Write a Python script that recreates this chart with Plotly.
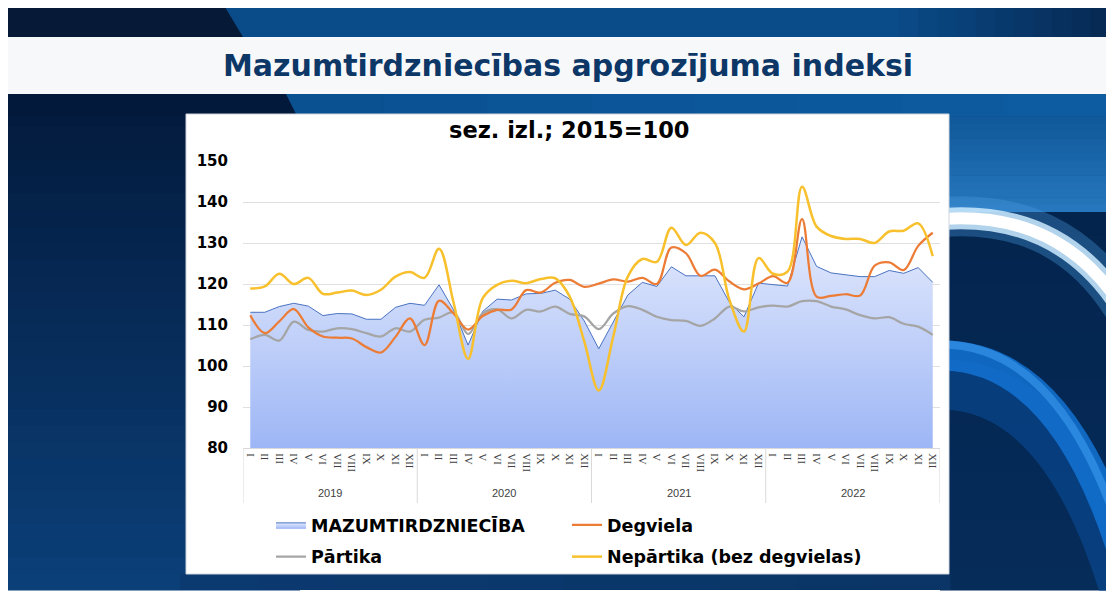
import plotly.graph_objects as go

# ---------------- data ----------------
years = ["2019", "2020", "2021", "2022"]
months = ["I", "II", "III", "IV", "V", "VI", "VII", "VIII", "IX", "X", "XI", "XII"]

mazumtirdznieciba = [
    113.1, 113.1, 114.5, 115.3, 114.6, 112.3, 112.8, 112.7, 111.4, 111.4, 114.3, 115.3,
    114.8, 119.8, 113.7, 105.1, 113.3, 116.3, 116.1, 117.6, 117.7, 118.5, 116.3, 111.0,
    104.2, 110.8, 117.3, 120.4, 119.4, 124.2, 122.0, 122.0, 122.0, 115.5, 112.0, 120.2,
    119.8, 119.5, 131.5, 124.3, 122.7, 122.3, 121.8, 121.8, 123.3, 122.6, 124.0, 120.4,
]
degviela = [
    112.4, 108.0, 110.9, 113.9, 109.4, 107.2, 106.9, 106.7, 104.6, 103.3, 107.1, 111.6,
    105.1, 115.9, 112.8, 108.9, 112.2, 113.7, 113.8, 118.5, 117.9, 120.3, 121.0, 119.3,
    120.1, 121.1, 120.6, 121.5, 120.0, 128.9, 127.5, 122.0, 123.5, 120.6, 118.7, 120.1,
    121.9, 120.3, 135.8, 116.9, 117.1, 117.5, 117.2, 124.5, 125.3, 123.4, 129.3, 132.5,
]
partika = [
    106.5, 107.6, 106.2, 110.8, 108.8, 108.4, 109.2, 109.0, 108.0, 107.2, 109.2, 108.4,
    111.3, 111.8, 113.1, 107.8, 112.8, 113.8, 111.6, 113.7, 113.3, 114.5, 112.7, 112.1,
    109.0, 112.8, 114.6, 113.7, 112.0, 111.2, 111.0, 109.8, 111.6, 114.5, 113.3, 114.3,
    114.7, 114.5, 115.8, 115.8, 114.5, 113.8, 112.4, 111.6, 111.9, 110.3, 109.6, 107.6,
]
nepartika = [
    118.9, 119.4, 122.5, 120.0, 121.5, 117.6, 117.9, 118.4, 117.3, 118.6, 121.8, 122.9,
    121.5, 128.6, 115.5, 101.7, 116.5, 119.8, 120.8, 120.2, 121.2, 121.4, 116.9, 106.0,
    94.0, 107.2, 121.8, 126.1, 125.4, 133.7, 129.5, 132.5, 130.0, 116.1, 108.4, 126.3,
    122.5, 123.0, 143.7, 134.0, 131.7, 131.0, 131.0, 130.0, 132.8, 133.0, 134.8, 126.8,
]

# ---------------- geometry helpers (screen pixels -> paper) ----------------
PAGE_OFF = 8                       # default body margin of the html page
W, H = 1114 - PAGE_OFF, 591 - PAGE_OFF
PL, PR, PT, PB = 243, 940, 161, 448  # plot area in screen pixels


def px(x):
    return (x - PL) / (PR - PL)


def py(y):
    return (PB - y) / (PB - PT)


shapes = []


def rect(x0, y0, x1, y1, color, line=None, lw=0):
    shapes.append(dict(type="rect", xref="paper", yref="paper",
                       x0=px(x0), x1=px(x1), y0=py(y1), y1=py(y0),
                       fillcolor=color, line=dict(color=line or color, width=lw),
                       layer="below"))


def poly(pts, color):
    d = "M " + " L ".join(f"{px(a):.5f},{py(b):.5f}" for a, b in pts) + " Z"
    shapes.append(dict(type="path", xref="paper", yref="paper", path=d,
                       fillcolor=color, line=dict(width=0), layer="below"))


def curve(p0, c, p1, color, width, opacity=1.0):
    d = (f"M {px(p0[0]):.5f},{py(p0[1]):.5f} Q {px(c[0]):.5f},{py(c[1]):.5f} "
         f"{px(p1[0]):.5f},{py(p1[1]):.5f}")
    shapes.append(dict(type="path", xref="paper", yref="paper", path=d,
                       line=dict(color=color, width=width), opacity=opacity,
                       layer="below"))


def hexmix(c0, c1, t):
    a = [int(c0[i:i + 2], 16) for i in (1, 3, 5)]
    b = [int(c1[i:i + 2], 16) for i in (1, 3, 5)]
    return "#" + "".join(f"{round(a[i] + (b[i] - a[i]) * t):02x}" for i in range(3))


def vgrad(x0, y0, x1, y1, c0, c1, n=24):
    h = (y1 - y0) / n
    for i in range(n):
        rect(x0, y0 + i * h, x1, y0 + (i + 1) * h + 0.6, hexmix(c0, c1, i / (n - 1)))


def hgrad(x0, y0, x1, y1, c0, c1, n=24):
    w = (x1 - x0) / n
    for i in range(n):
        rect(x0 + i * w, y0, x0 + (i + 1) * w + 0.6, y1, hexmix(c0, c1, i / (n - 1)))


# ---------------- slide background ----------------
rect(7, 7, 1110, 590, "#062a57")
# left dark panel
vgrad(7, 94, 300, 590, "#031a3c", "#0b3f78", 30)
# right panel
vgrad(940, 94, 1110, 212, "#0b5192", "#2677bd", 16)
vgrad(940, 212, 1110, 590, "#03244d", "#062c5a", 16)
# bottom strip under the chart
hgrad(180, 574, 950, 590, "#0b3a70", "#0a3566", 10)
# top band
rect(7, 7, 1110, 37, "#0a4c8a")
hgrad(880, 7, 1110, 37, "#0a4c8a", "#072a55", 12)
poly([(7, 7), (225, 7), (243, 37), (7, 37)], "#061a37")
# strip below the title band
hgrad(280, 94, 1110, 116, "#0a5192", "#0d5ba0", 8)
poly([(7, 94), (286, 94), (297, 116), (7, 116)], "#03193b")
# title band
rect(7, 37, 1110, 94, "#f7f8fa")

# light arcs on the right
curve((930, 385), (1060, 375), (1125, 590), "#0a4f9c", 50, 0.55)
curve((930, 356), (1060, 346), (1125, 560), "#1273d4", 30, 0.85)
curve((930, 345), (1060, 335), (1125, 548), "#3c9cf0", 8, 0.6)
curve((930, 218), (1060, 203), (1125, 310), "#4a9be0", 40, 0.35)
curve((930, 220), (1060, 205), (1125, 312), "#cdebff", 22, 0.85)
curve((930, 220), (1060, 205), (1125, 312), "#ffffff", 12, 1.0)

# white chart box
rect(186, 114, 949, 574, "#ffffff", line="#cfd4dc", lw=1)

# year dividers under the category axis
for i in range(len(years) + 1):
    xv = i * len(months) - 0.5
    shapes.append(dict(type="line", xref="x", yref="paper", x0=xv, x1=xv,
                       y0=0, y1=py(503), line=dict(color="#d9d9d9", width=1)))

# ---------------- traces ----------------
n = len(years) * len(months)
x_idx = list(range(n))
ticktext = months * len(years)

fig = go.Figure()
fig.add_trace(go.Scatter(
    x=x_idx, y=mazumtirdznieciba, name="MAZUMTIRDZNIECĪBA", mode="lines",
    line=dict(color="#4a73c2", width=1), fill="tozeroy",
    fillcolor="#bccdf8",
    fillgradient=dict(type="vertical", start=80, stop=135,
                      colorscale=[[0, "#9db6f5"], [1, "#e6ecfd"]]),
    legend="legend", legendgroup="a"))
fig.add_trace(go.Scatter(
    x=x_idx, y=partika, name="Pārtika", mode="lines",
    line=dict(color="#a5a5a5", width=2.25, shape="spline", smoothing=1.0),
    legend="legend", legendgroup="b"))
fig.add_trace(go.Scatter(
    x=x_idx, y=degviela, name="Degviela", mode="lines",
    line=dict(color="#ec7c35", width=2.25, shape="spline", smoothing=1.0),
    legend="legend2", legendgroup="c"))
fig.add_trace(go.Scatter(
    x=x_idx, y=nepartika, name="Nepārtika (bez degvielas)", mode="lines",
    line=dict(color="#f7c02c", width=2.5, shape="spline", smoothing=1.0),
    legend="legend2", legendgroup="d"))

annotations = [
    dict(text="Mazumtirdzniecības apgrozījuma indeksi", xref="paper", yref="paper",
         x=px(568), y=py(65), showarrow=False, xanchor="center", yanchor="middle",
         font=dict(family="DejaVu Sans", size=30, color="#0c3767", weight="bold")),
    dict(text="sez. izl.; 2015=100", xref="paper", yref="paper",
         x=px(569), y=py(130), showarrow=False, xanchor="center", yanchor="middle",
         font=dict(family="DejaVu Sans", size=22.5, color="#000000", weight="bold")),
]
for i, yr in enumerate(years):
    annotations.append(dict(text=yr, xref="x", yref="paper",
                            x=i * len(months) + (len(months) - 1) / 2, y=py(493),
                            showarrow=False, xanchor="center", yanchor="middle",
                            font=dict(family="Liberation Sans", size=11, color="#404040")))

legend_font = dict(family="DejaVu Sans", size=17.5, color="#000000", weight="bold")

fig.update_layout(
    width=W, height=H,
    margin=dict(l=PL - PAGE_OFF, r=W - (PR - PAGE_OFF), t=PT - PAGE_OFF,
                b=H - (PB - PAGE_OFF), pad=0),
    paper_bgcolor="#ffffff", plot_bgcolor="rgba(0,0,0,0)",
    showlegend=True,
    shapes=shapes, annotations=annotations,
    xaxis=dict(range=[-0.5, n - 0.5], tickmode="array", tickvals=x_idx, ticktext=ticktext,
               tickangle=90, showgrid=False, zeroline=False, showline=True,
               linecolor="#d9d9d9", linewidth=1, ticks="", ticklabelstandoff=2,
               tickfont=dict(family="Liberation Serif", size=11, color="#404040")),
    yaxis=dict(range=[80, 150], dtick=10, showgrid=True, gridcolor="#e0e0e0", gridwidth=1,
               zeroline=False, showline=False, ticks="", ticklabelstandoff=14,
               tickfont=dict(family="DejaVu Sans", size=15, color="#000000", weight="bold")),
    legend=dict(x=px(271), y=py(507), xanchor="left", yanchor="top", orientation="v",
                bgcolor="rgba(0,0,0,0)", font=legend_font, tracegroupgap=6,
                traceorder="grouped"),
    legend2=dict(x=px(567), y=py(507), xanchor="left", yanchor="top", orientation="v",
                 bgcolor="rgba(0,0,0,0)", font=legend_font, tracegroupgap=6,
                 traceorder="grouped"),
)

fig.write_html("out.html")
